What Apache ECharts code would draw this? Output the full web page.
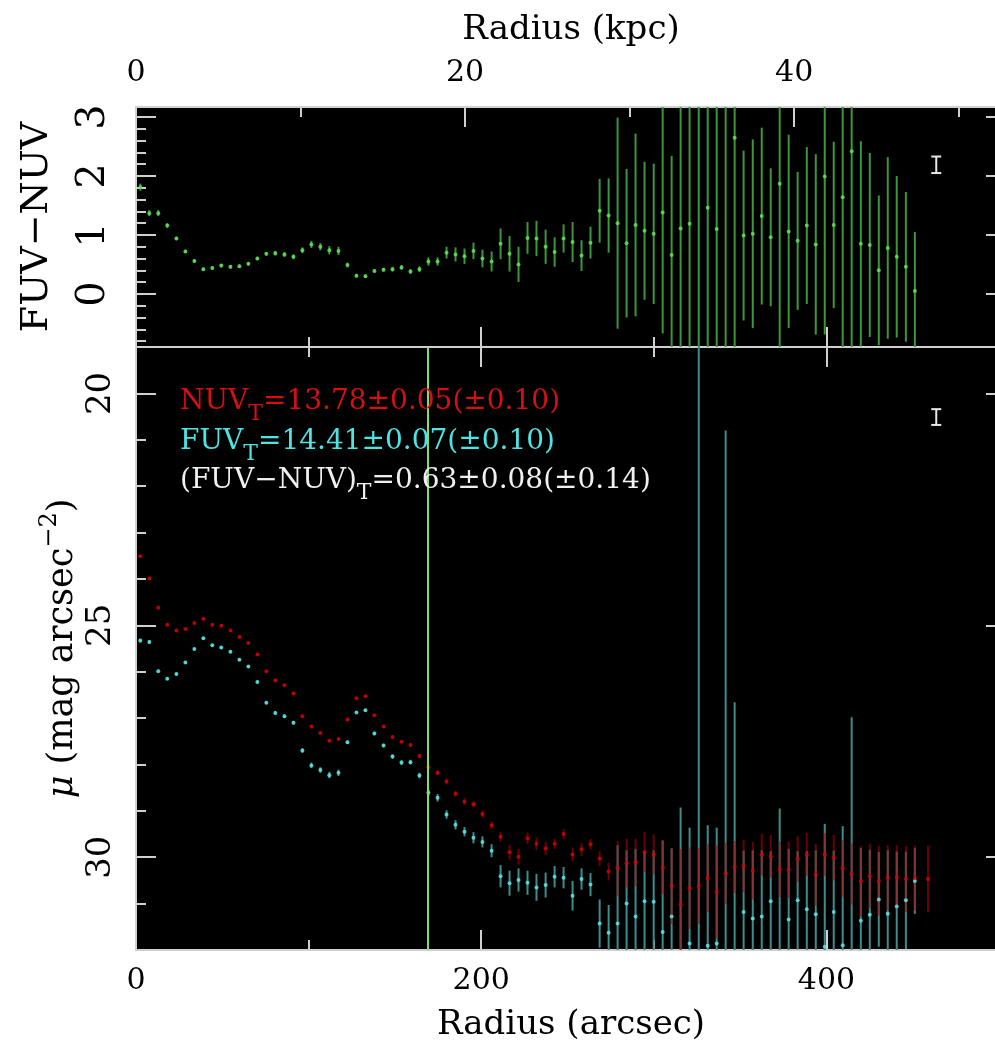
<!DOCTYPE html>
<html><head><meta charset="utf-8">
<script src="https://cdn.jsdelivr.net/npm/echarts@6/dist/echarts.min.js"></script>
<style>html,body{margin:0;padding:0;background:#fff;} #c{width:995px;height:1046px;}</style>
</head><body><div id="c"></div>
<script>
// Radius of each annulus (arcsec)
const radius = [2.5,7.7,12.9,18.1,23.4,28.6,33.8,39.0,44.2,49.4,
  54.7,59.9,65.1,70.3,75.5,80.7,86.0,91.2,96.4,101.6,
  106.8,112.0,117.3,122.5,127.7,132.9,138.1,143.4,148.6,153.8,
  159.0,164.2,169.4,174.7,179.9,185.1,190.3,195.5,200.7,206.0,
  211.2,216.4,221.6,226.8,232.0,237.3,242.5,247.7,252.9,258.1,
  263.3,268.6,273.8,279.0,284.2,289.4,294.6,299.9,305.1,310.3,
  315.5,320.7,326.0,331.2,336.4,341.6,346.8,352.0,357.3,362.5,
  367.7,372.9,378.1,383.3,388.6,393.8,399.0,404.2,409.4,414.6,
  419.9,425.1,430.3,435.5,440.7,446.0,451.2];
const radiusNuvOuter = [458.8];

// FUV-NUV colour profile
const fuvNuv = [1.81,1.37,1.37,1.16,0.94,0.72,0.56,0.42,0.44,0.48,
  0.46,0.47,0.51,0.60,0.68,0.69,0.67,0.63,0.74,0.84,
  0.80,0.74,0.73,0.49,0.31,0.30,0.39,0.41,0.42,0.45,
  0.38,0.42,0.55,0.55,0.70,0.67,0.64,0.73,0.60,0.55,
  0.85,0.68,0.50,0.95,0.94,0.80,0.71,0.94,0.88,0.65,
  0.87,1.41,1.33,1.20,0.86,1.17,1.07,1.02,1.38,0.66,
  1.11,1.19,3.80,1.46,1.10,3.60,2.65,0.99,1.02,1.32,
  0.96,1.87,1.06,0.90,1.16,0.84,1.99,1.17,1.64,2.42,
  0.85,0.83,0.40,0.78,0.63,0.46,0.05];
const fuvNuvErr = [0.06,0.05,0.05,0.04,0.03,0.03,0.03,0.03,0.03,0.03,
  0.03,0.03,0.03,0.03,0.03,0.04,0.04,0.04,0.05,0.06,
  0.06,0.07,0.07,0.04,0.03,0.03,0.03,0.03,0.04,0.04,
  0.04,0.05,0.07,0.07,0.10,0.12,0.13,0.14,0.15,0.17,
  0.26,0.30,0.30,0.27,0.30,0.29,0.25,0.24,0.34,0.26,
  0.27,0.54,0.63,1.79,1.26,1.55,1.17,1.19,2.05,1.68,
  3.2,2.6,5.0,2.7,2.6,5.0,6.2,1.44,1.60,1.50,
  1.17,3.2,1.64,1.17,1.33,1.53,2.68,1.41,2.6,5.8,
  1.74,1.56,1.27,1.54,1.37,1.27,1.00];

// NUV surface brightness (mag arcsec^-2), last value at radiusNuvOuter
const nuv = [23.51,23.99,24.62,24.99,25.11,25.08,24.95,24.86,24.99,25.01,
  25.11,25.25,25.38,25.63,25.99,26.19,26.29,26.47,26.96,27.18,
  27.32,27.49,27.45,27.03,26.57,26.53,26.94,27.18,27.41,27.51,
  27.58,27.82,28.06,28.18,28.37,28.63,28.80,28.86,29.07,29.31,
  29.56,29.89,29.99,29.59,29.71,29.81,29.71,29.50,29.94,29.83,
  29.72,30.03,30.31,30.24,30.13,30.11,29.89,29.94,30.22,30.62,
  31.02,30.67,30.62,30.45,30.75,30.35,30.21,30.19,30.29,29.94,
  29.98,30.26,30.27,30.04,29.94,30.38,29.94,30.01,30.24,30.36,
  30.52,30.41,30.51,30.44,30.43,30.47,30.45,
  30.47];
const nuvErr = [0.03,0.03,0.03,0.03,0.03,0.03,0.03,0.03,0.03,0.03,
  0.03,0.03,0.03,0.03,0.03,0.03,0.03,0.03,0.03,0.03,
  0.03,0.03,0.03,0.03,0.03,0.03,0.03,0.03,0.03,0.03,
  0.04,0.04,0.05,0.05,0.06,0.06,0.07,0.07,0.08,0.08,
  0.11,0.16,0.17,0.12,0.13,0.14,0.11,0.11,0.15,0.14,
  0.11,0.16,0.19,0.59,0.52,0.51,0.43,0.43,0.58,0.82,
  1.2,0.88,0.82,0.73,1.0,0.66,0.56,0.57,0.62,0.45,
  0.46,0.60,0.61,0.49,0.46,0.67,0.46,0.49,0.61,0.66,
  0.76,0.69,0.75,0.70,0.69,0.71,0.70,
  0.72];

// FUV surface brightness (mag arcsec^-2)
const fuv = [25.33,25.36,25.99,26.15,26.05,25.80,25.51,25.28,25.43,25.48,
  25.57,25.74,25.89,26.22,26.67,26.89,26.96,27.10,27.70,28.02,
  28.12,28.23,28.18,27.52,26.88,26.83,27.33,27.59,27.83,27.96,
  27.95,28.24,28.61,28.72,29.08,29.30,29.45,29.58,29.67,29.86,
  30.41,30.56,30.49,30.55,30.65,30.60,30.42,30.44,30.83,30.47,
  30.59,31.43,31.63,31.43,31.00,31.28,30.95,30.96,31.61,31.28,
  32.13,31.86,34.0,31.91,31.86,34.0,32.86,31.18,31.32,31.28,
  30.95,32.13,31.34,30.93,31.12,31.23,31.93,31.18,31.90,32.78,
  31.37,31.24,30.91,31.22,31.06,30.93,30.51];
const fuvErr = [0.04,0.04,0.03,0.03,0.03,0.03,0.03,0.03,0.03,0.03,
  0.03,0.03,0.03,0.03,0.03,0.04,0.04,0.04,0.05,0.06,
  0.06,0.07,0.07,0.04,0.03,0.03,0.04,0.04,0.05,0.05,
  0.05,0.06,0.07,0.08,0.09,0.10,0.10,0.12,0.12,0.14,
  0.24,0.27,0.25,0.26,0.29,0.27,0.23,0.23,0.32,0.23,
  0.25,0.52,0.60,1.69,1.15,1.46,1.09,1.11,1.97,1.47,
  3.2,2.5,15,2.6,2.5,13.2,6.2,1.32,1.47,1.43,
  1.08,3.18,1.52,1.06,1.25,1.38,2.65,1.32,2.57,5.8,
  1.57,1.40,1.02,1.37,1.18,1.05,0.71];

// Typical systematic error symbols ("I") and the marked radius
const sysErrColour = [[463.6, 2.19, 0.14]];
const sysErrMag = [[463.6, 20.51, 0.17]];
const markedRadius = 169.2;

// Axis settings
const xMaxArcsec = 504;
const kpcPerArcsec = 0.10491;
const colourRange = [-0.9, 3.17];
const magRange = [19, 32];

const FONT = 'DejaVu Serif';
const lineCol = '#d0d0d0';
const axLine = {show: true, onZero: false, lineStyle: {color: lineCol, width: 2}};
const tickMajor = {show: true, inside: true, length: 20, lineStyle: {color: lineCol, width: 2}};
const tickMinor = (n) => ({show: true, splitNumber: n, length: 10, lineStyle: {color: lineCol, width: 2}});
const near = (v, m) => Math.abs(v / m - Math.round(v / m)) < 1e-6;

function errBar(color, width, cap) {
  return function (params, api) {
    const x = api.value(0), y = api.value(1), e = api.value(2);
    const a = api.coord([x, y - e]), b = api.coord([x, y + e]);
    const st = {stroke: color, lineWidth: width};
    const ch = [{type: 'line', shape: {x1: a[0], y1: a[1], x2: b[0], y2: b[1]}, style: st}];
    if (cap) {
      ch.push({type: 'line', shape: {x1: a[0] - cap, y1: a[1], x2: a[0] + cap, y2: a[1]}, style: st});
      ch.push({type: 'line', shape: {x1: b[0] - cap, y1: b[1], x2: b[0] + cap, y2: b[1]}, style: st});
    }
    return {type: 'group', children: ch};
  };
}

const nuvR = radius.concat(radiusNuvOuter);
const colourBars = radius.map((r, i) => [r, fuvNuv[i], fuvNuvErr[i]]);
const colourPts = radius.map((r, i) => [r, fuvNuv[i]]);
const nuvBars = nuvR.map((r, i) => [r, nuv[i], nuvErr[i]]);
const nuvPts = nuvR.map((r, i) => [r, nuv[i]]);
const fuvBars = radius.map((r, i) => [r, fuv[i], fuvErr[i]]);
const fuvPts = radius.map((r, i) => [r, fuv[i]]);

function annot(y, main1, main2, color) {
  return {type: 'text', x: 180, y: y, z: 100, style: {
    text: '{m|' + main1 + '}{s|T}{m|' + main2 + '}', verticalAlign: 'middle', align: 'left',
    rich: {m: {fontSize: 28, fontFamily: FONT, fill: color, lineHeight: 46, verticalAlign: 'middle'},
           s: {fontSize: 22, fontFamily: FONT, fill: color, lineHeight: 22, verticalAlign: 'bottom'}}}};
}

const chart = echarts.init(document.getElementById('c'), null, {renderer: 'canvas'});
chart.setOption({
  animation: false,
  backgroundColor: '#ffffff',
  grid: [
    {left: 136, top: 107, width: 870, height: 240, show: true, backgroundColor: '#000', borderWidth: 0, containLabel: false, outerBoundsMode: 'none'},
    {left: 136, top: 347, width: 870, height: 603, show: true, backgroundColor: '#000', borderWidth: 0, containLabel: false, outerBoundsMode: 'none'}
  ],
  xAxis: [
    {gridIndex: 0, type: 'value', position: 'top', min: 0, max: xMaxArcsec * kpcPerArcsec, interval: 20,
      axisLine: axLine, axisTick: tickMajor, minorTick: tickMinor(2), splitLine: {show: false},
      axisLabel: {margin: 19, fontSize: 30, fontFamily: FONT, color: '#000', showMaxLabel: false,
        formatter: v => near(v, 20) ? String(Math.round(v)) : ''},
      name: 'Radius (kpc)', nameLocation: 'middle', nameGap: 60, nameMoveOverlap: false,
      nameTextStyle: {fontSize: 34, fontFamily: FONT, color: '#000'}},
    {gridIndex: 0, type: 'value', position: 'bottom', min: 0, max: xMaxArcsec, interval: 200,
      axisLine: axLine, axisTick: tickMajor, minorTick: tickMinor(2), splitLine: {show: false},
      axisLabel: {show: false}},
    {gridIndex: 1, type: 'value', position: 'top', min: 0, max: xMaxArcsec, interval: 200,
      axisLine: axLine, axisTick: tickMajor, minorTick: tickMinor(2), splitLine: {show: false},
      axisLabel: {show: false}},
    {gridIndex: 1, type: 'value', position: 'bottom', min: 0, max: xMaxArcsec, interval: 200,
      axisLine: axLine, axisTick: tickMajor, minorTick: tickMinor(2), splitLine: {show: false},
      axisLabel: {margin: 16, fontSize: 30, fontFamily: FONT, color: '#000', showMaxLabel: false,
        formatter: v => near(v, 200) ? String(Math.round(v)) : ''},
      name: 'Radius (arcsec)', nameLocation: 'middle', nameGap: 58, nameMoveOverlap: false,
      nameTextStyle: {fontSize: 34, fontFamily: FONT, color: '#000'}}
  ],
  yAxis: [
    {gridIndex: 0, type: 'value', position: 'left', min: colourRange[0], max: colourRange[1], splitNumber: 4,
      axisLine: axLine, axisTick: tickMajor, minorTick: tickMinor(5), splitLine: {show: false},
      axisLabel: {rotate: 90, margin: 22, fontSize: 40, fontFamily: FONT, color: '#000', showMinLabel: false, showMaxLabel: false,
        formatter: v => near(v, 1) ? String(Math.round(v)) : ''},
      name: 'FUV\u2212NUV', nameLocation: 'middle', nameRotate: 90, nameGap: 80, nameMoveOverlap: false,
      nameTextStyle: {fontSize: 38, fontFamily: FONT, color: '#000'}},
    {gridIndex: 0, type: 'value', position: 'right', min: colourRange[0], max: colourRange[1], splitNumber: 4,
      axisLine: axLine, axisTick: tickMajor, minorTick: tickMinor(5), splitLine: {show: false},
      axisLabel: {show: false}},
    {gridIndex: 1, type: 'value', position: 'left', inverse: true, min: magRange[0], max: magRange[1], splitNumber: 3,
      axisLine: axLine, axisTick: tickMajor, minorTick: tickMinor(5), splitLine: {show: false},
      axisLabel: {rotate: 90, margin: 18, fontSize: 34, fontFamily: FONT, color: '#000', showMinLabel: false, showMaxLabel: false,
        formatter: v => near(v, 5) ? String(Math.round(v)) : ''},
      name: '{mu|\u03bc} (mag arcsec{sup|\u22122})', nameLocation: 'middle', nameRotate: 90, nameGap: 48, nameMoveOverlap: false,
      nameTextStyle: {fontSize: 35, fontFamily: FONT, color: '#000', lineHeight: 50,
        rich: {
          mu: {fontSize: 35, fontFamily: FONT, fontStyle: 'italic', color: '#000', lineHeight: 50},
          sup: {fontSize: 24, fontFamily: FONT, color: '#000', lineHeight: 24, verticalAlign: 'top'}
        }}},
    {gridIndex: 1, type: 'value', position: 'right', inverse: true, min: magRange[0], max: magRange[1], splitNumber: 3,
      axisLine: axLine, axisTick: tickMajor, minorTick: tickMinor(5), splitLine: {show: false},
      axisLabel: {show: false}}
  ],
  graphic: [
    annot(402, 'NUV', '=13.78\u00b10.05(\u00b10.10)', '#d41010'),
    annot(442, 'FUV', '=14.41\u00b10.07(\u00b10.10)', '#4ee4e4'),
    annot(481, '(FUV\u2212NUV)', '=0.63\u00b10.08(\u00b10.14)', '#f0f0f0')
  ],
  series: [
    // top panel: FUV-NUV
    {type: 'custom', name: 'colourErr', xAxisIndex: 1, yAxisIndex: 0, clip: true, silent: true,
      renderItem: errBar('#3c963c', 2, 0), encode: {x: 0, y: 1}, data: colourBars},
    {type: 'scatter', name: 'FUV-NUV', xAxisIndex: 1, yAxisIndex: 0, symbol: 'circle', symbolSize: 4, silent: true,
      itemStyle: {color: '#62ec58'}, data: colourPts},
    {type: 'custom', name: 'sysColour', xAxisIndex: 1, yAxisIndex: 0, clip: true, silent: true,
      renderItem: errBar('#e8e8e8', 2, 5), encode: {x: 0, y: 1}, data: sysErrColour},
    // bottom panel: FUV and NUV profiles
    {type: 'custom', name: 'fuvErr', xAxisIndex: 3, yAxisIndex: 2, clip: true, silent: true,
      renderItem: errBar('#3f8c8c', 2, 0), encode: {x: 0, y: 1}, data: fuvBars,
      markLine: {silent: true, symbol: 'none', label: {show: false}, animation: false,
        lineStyle: {color: '#86dc74', width: 2, type: 'solid'}, data: [{xAxis: markedRadius}]}},
    {type: 'scatter', name: 'FUV', xAxisIndex: 3, yAxisIndex: 2, symbol: 'circle', symbolSize: 4, silent: true,
      itemStyle: {color: '#5cf0f0'}, data: fuvPts},
    {type: 'custom', name: 'nuvErr', xAxisIndex: 3, yAxisIndex: 2, clip: true, silent: true,
      renderItem: errBar('rgba(175,0,0,0.62)', 2, 0), encode: {x: 0, y: 1}, data: nuvBars},
    {type: 'scatter', name: 'NUV', xAxisIndex: 3, yAxisIndex: 2, symbol: 'circle', symbolSize: 4, silent: true,
      itemStyle: {color: '#dc0000'}, data: nuvPts},
    {type: 'custom', name: 'sysMag', xAxisIndex: 3, yAxisIndex: 2, clip: true, silent: true,
      renderItem: errBar('#e8e8e8', 2, 5), encode: {x: 0, y: 1}, data: sysErrMag}
  ]
});
</script></body></html>
